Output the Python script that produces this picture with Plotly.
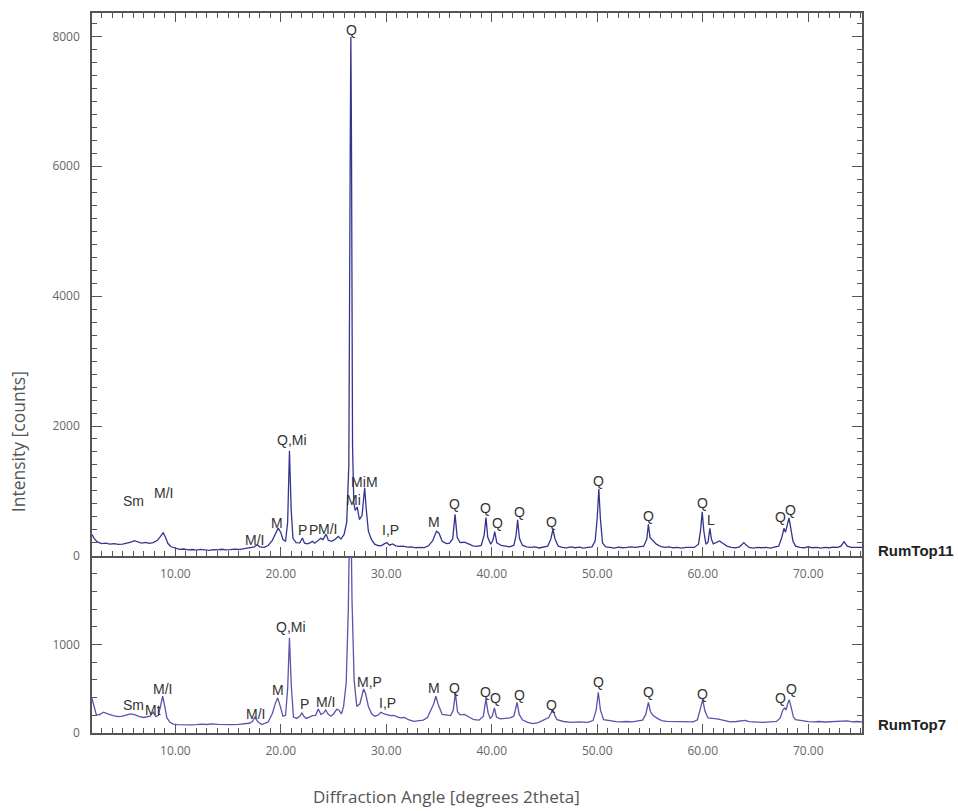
import plotly.graph_objects as go

# ---------------- data ----------------
top_angle = [2.1, 2.3, 2.6, 3.0, 3.4, 3.8, 4.2, 4.6, 5.0, 5.4, 5.8, 6.1, 6.4, 6.8, 7.2, 7.5, 7.9, 8.3, 8.6, 8.85,
             9.05, 9.3, 9.6, 10.0, 10.4, 10.8, 11.2, 11.6, 12.0, 12.4, 12.8, 13.2, 13.6, 14.0, 14.4, 14.8, 15.2, 15.6, 16.0, 16.4,
             16.8, 17.2, 17.5, 17.75, 18.0, 18.4, 18.8, 19.2, 19.5, 19.75, 20.0, 20.2, 20.45, 20.65, 20.82, 20.98, 21.15, 21.45, 21.8, 22.05,
             22.25, 22.55, 22.8, 23.0, 23.2, 23.5, 23.8, 24.0, 24.3, 24.5, 24.8, 25.1, 25.45, 25.7, 26.0, 26.25, 26.45, 26.58, 26.64, 26.7,
             26.8, 26.92, 27.05, 27.25, 27.45, 27.7, 27.95, 28.1, 28.3, 28.6, 28.9, 29.2, 29.5, 29.8, 30.05, 30.3, 30.6, 30.9, 31.2, 31.6,
             32.0, 32.4, 32.8, 33.2, 33.6, 34.0, 34.4, 34.75, 35.0, 35.3, 35.7, 36.0, 36.3, 36.52, 36.72, 37.0, 37.4, 37.8, 38.2, 38.6,
             39.0, 39.28, 39.45, 39.62, 39.9, 40.1, 40.28, 40.48, 40.9, 41.3, 41.7, 42.1, 42.3, 42.45, 42.62, 42.9, 43.3, 43.7, 44.1, 44.5,
             44.9, 45.3, 45.6, 45.8, 46.0, 46.3, 46.7, 47.1, 47.5, 47.9, 48.3, 48.7, 49.1, 49.5, 49.8, 50.0, 50.15, 50.3, 50.5, 50.8,
             51.2, 51.6, 52.0, 52.4, 52.8, 53.2, 53.6, 54.0, 54.4, 54.7, 54.85, 55.0, 55.3, 55.6, 56.0, 56.4, 56.8, 57.2, 57.6, 58.0,
             58.4, 58.8, 59.2, 59.6, 59.8, 59.95, 60.1, 60.3, 60.5, 60.68, 60.82, 61.0, 61.3, 61.6, 61.9, 62.3, 62.7, 63.1, 63.5, 63.9,
             64.1, 64.4, 64.8, 65.2, 65.6, 66.0, 66.4, 66.8, 67.2, 67.5, 67.7, 67.85, 68.0, 68.18, 68.35, 68.55, 68.8, 69.2, 69.6, 70.0,
             70.4, 70.8, 71.2, 71.6, 72.0, 72.4, 72.8, 73.1, 73.4, 73.7, 74.1, 74.6, 75.1]
top_counts = [330, 270, 215, 190, 195, 180, 188, 176, 182, 192, 210, 235, 215, 198, 208, 192, 205, 240, 300, 355,
              290, 190, 140, 115, 100, 106, 92, 98, 88, 100, 92, 86, 96, 92, 102, 92, 97, 104, 98, 108,
              112, 122, 140, 172, 140, 132, 160, 240, 360, 430, 360, 250, 225, 520, 1620, 720, 270, 205, 200, 275,
              195, 185, 205, 225, 195, 235, 270, 250, 335, 240, 225, 250, 300, 260, 330, 520, 1400, 6200, 7990, 6400,
              1700, 820, 700, 750, 560, 620, 1050, 720, 380, 250, 180, 160, 155, 185, 205, 165, 185, 155, 145, 150,
              136, 140, 125, 132, 128, 155, 235, 380, 350, 225, 190, 195, 265, 640, 285, 205, 210, 185, 155, 145,
              160, 320, 590, 285, 180, 235, 375, 200, 160, 150, 140, 165, 310, 555, 270, 165, 138, 130, 140, 122,
              132, 150, 260, 410, 260, 150, 130, 122, 138, 125, 135, 120, 130, 140, 230, 590, 1030, 570, 200, 140,
              130, 120, 135, 125, 130, 140, 130, 140, 150, 260, 487, 285, 240, 180, 145, 130, 140, 125, 130, 120,
              130, 135, 130, 180, 400, 680, 390, 180, 210, 425, 260, 185, 205, 230, 195, 150, 130, 125, 140, 205,
              170, 130, 120, 130, 125, 130, 120, 130, 150, 285, 425, 365, 465, 585, 425, 230, 150, 130, 125, 140,
              125, 130, 120, 130, 125, 135, 130, 150, 220, 150, 130, 125, 130]

bottom_angle = [2.1, 2.3, 2.5, 2.8, 3.2, 3.6, 4.1, 4.6, 5.0, 5.4, 5.8, 6.2, 6.6, 7.0, 7.3, 7.6, 7.9, 8.15, 8.4, 8.6,
                8.8, 9.0, 9.2, 9.5, 9.8, 10.2, 10.6, 11.0, 11.5, 12.0, 12.5, 13.0, 13.5, 14.0, 14.5, 15.0, 15.5, 16.0, 16.5, 17.0,
                17.3, 17.55, 17.8, 18.2, 18.8, 19.2, 19.5, 19.7, 19.95, 20.2, 20.45, 20.65, 20.82, 21.0, 21.2, 21.5, 21.8, 22.0, 22.2, 22.4,
                22.7, 23.0, 23.3, 23.55, 23.8, 24.05, 24.25, 24.5, 24.75, 25.0, 25.3, 25.5, 25.75, 25.95, 26.2, 26.4, 26.6, 26.75, 26.95, 27.2,
                27.5, 27.85, 28.05, 28.3, 28.6, 28.9, 29.2, 29.5, 29.8, 30.1, 30.4, 30.7, 31.0, 31.3, 31.7, 32.1, 32.6, 33.1, 33.5, 33.9,
                34.2, 34.5, 34.7, 34.9, 35.3, 35.7, 36.1, 36.35, 36.55, 36.75, 37.0, 37.4, 37.8, 38.3, 38.8, 39.2, 39.45, 39.65, 39.85, 40.05,
                40.25, 40.45, 40.8, 41.3, 41.75, 42.1, 42.25, 42.4, 42.6, 42.9, 43.4, 43.9, 44.4, 44.8, 45.1, 45.4, 45.6, 45.8, 46.0, 46.2,
                46.8, 47.5, 48.3, 49.1, 49.6, 49.9, 50.1, 50.3, 50.6, 51.2, 51.8, 52.2, 52.8, 53.3, 53.8, 54.3, 54.6, 54.85, 55.05, 55.3,
                55.7, 56.1, 56.6, 57.2, 57.8, 58.5, 59.1, 59.5, 59.8, 60.0, 60.2, 60.5, 60.9, 61.35, 61.9, 62.6, 63.2, 63.7, 64.0, 64.4,
                65.0, 65.7, 66.4, 67.0, 67.35, 67.6, 67.75, 67.9, 68.05, 68.2, 68.4, 68.6, 68.8, 69.4, 70.0, 70.5, 71.0, 71.6, 72.2, 72.8,
                73.3, 73.7, 74.2, 74.6, 75.1]
bottom_counts = [390, 290, 210, 205, 235, 215, 195, 185, 190, 205, 215, 205, 185, 175, 180, 190, 235, 185, 200, 310,
                 415, 300, 170, 120, 100, 94, 92, 95, 92, 94, 100, 96, 102, 97, 94, 99, 95, 98, 104, 110,
                 130, 180, 130, 96, 125, 220, 340, 396, 300, 190, 200, 500, 1075, 520, 180, 165, 190, 226, 185, 165,
                 180, 196, 200, 272, 210, 225, 260, 210, 190, 215, 268, 260, 215, 300, 566, 1400, 3000, 1500, 600, 300,
                 330, 498, 440, 300, 220, 190, 200, 235, 215, 205, 196, 200, 185, 170, 175, 150, 131, 140, 146, 175,
                 245, 330, 415, 330, 210, 200, 196, 260, 453, 240, 205, 210, 180, 150, 145, 190, 385, 230, 165, 190,
                 283, 180, 160, 168, 170, 190, 260, 347, 210, 150, 120, 105, 118, 140, 150, 175, 220, 264, 190, 150,
                 130, 120, 125, 120, 140, 260, 460, 260, 150, 135, 128, 125, 130, 125, 131, 145, 210, 347, 240, 196,
                 165, 140, 131, 128, 125, 120, 125, 150, 270, 377, 250, 170, 165, 160, 145, 125, 130, 135, 143, 128,
                 122, 120, 125, 130, 170, 260, 283, 260, 330, 377, 280, 180, 150, 135, 128, 125, 130, 124, 128, 125,
                 132, 138, 126, 130, 125]

# peak labels (text, angle, counts at label centre)
top_label_text = ["Sm", "M/I", "M/I", "M", "Q,Mi", "P", "P", "M/I", "Q", "Mi", "Mi", "M", "I,P", "M",
                  "Q", "Q", "Q", "Q", "Q", "Q", "Q", "Q", "L", "Q", "Q"]
top_label_x = [6.0, 8.85, 17.5, 19.6, 21.1, 22.1, 23.1, 24.4, 26.7, 26.85, 27.35, 28.65, 30.4, 34.5,
               36.5, 39.4, 40.5, 42.6, 45.7, 50.1, 54.9, 60.0, 60.8, 67.4, 68.3]
top_label_y = [846, 969, 246, 508, 1785, 400, 400, 415, 8092, 862, 1138, 1138, 400, 523,
               800, 738, 508, 677, 523, 1154, 615, 815, 554, 600, 708]

bottom_label_text = ["Sm", "Mt", "M/I", "M/I", "M", "Q,Mi", "P", "M/I", "M,P", "I,P", "M",
                     "Q", "Q", "Q", "Q", "Q", "Q", "Q", "Q", "Q", "Q"]
bottom_label_x = [6.0, 7.9, 8.8, 17.6, 19.7, 21.0, 22.2, 24.2, 28.4, 30.1, 34.5,
                  36.5, 39.4, 40.4, 42.6, 45.7, 50.1, 54.9, 60.0, 67.4, 68.4]
bottom_label_y = [320, 264, 502, 219, 490, 1192, 332, 354, 581, 343, 513,
                  513, 468, 400, 434, 320, 581, 468, 445, 400, 502]

sample_names = ["RumTop11", "RumTop7"]
x_ticks = [10, 20, 30, 40, 50, 60, 70]

# ---------------- figure ----------------
AX = "#555555"
TICKFONT = dict(family="Open Sans", size=12, color="#666666")

fig = go.Figure()
fig.add_trace(go.Scatter(x=top_angle, y=top_counts, xaxis="x", yaxis="y", mode="lines",
                         line=dict(color="#34348f", width=1.3), showlegend=False, hoverinfo="skip"))
fig.add_trace(go.Scatter(x=bottom_angle, y=bottom_counts, xaxis="x2", yaxis="y2", mode="lines",
                         line=dict(color="#5d52aa", width=1.3), showlegend=False, hoverinfo="skip"))

def xaxis_cfg(anchor, mirror):
    return dict(anchor=anchor, domain=[0, 1], range=[2.1, 75.1],
                tickvals=x_ticks, ticktext=[f"{v:.2f}" for v in x_ticks],
                ticks="inside", ticklen=9, tickwidth=1, tickcolor=AX,
                minor=dict(ticks="inside", dtick=1, tick0=0, ticklen=5, tickcolor=AX, tickwidth=1),
                showline=True, linecolor=AX, linewidth=1.5, mirror=mirror,
                showgrid=False, zeroline=False, tickfont=TICKFONT, ticklabelstandoff=6)

def yaxis_cfg(anchor, domain, rng, tickvals):
    return dict(anchor=anchor, domain=domain, range=rng, tickvals=tickvals,
                ticks="inside", ticklen=10, tickwidth=1, tickcolor=AX,
                minor=dict(ticks="inside", dtick=200, tick0=0, ticklen=5, tickcolor=AX, tickwidth=1),
                showline=True, linecolor=AX, linewidth=1.5, mirror="ticks",
                showgrid=False, zeroline=False, tickfont=TICKFONT, ticklabelstandoff=8)

split = 0.246
fig.update_layout(
    width=958, height=811,
    margin=dict(l=92, r=96, t=13, b=78),
    paper_bgcolor="white", plot_bgcolor="white",
    xaxis=xaxis_cfg("y", "ticks"),
    yaxis=yaxis_cfg("x", [split, 1], [0, 8360], [0, 2000, 4000, 6000, 8000]),
    xaxis2=xaxis_cfg("y2", False),
    yaxis2=yaxis_cfg("x2", [0, split], [0, 2000], [0, 1000]),
)

ann = []
LBL = dict(family="Liberation Sans, Arial, sans-serif", size=14, color="#333333")
for t, x, y in zip(top_label_text, top_label_x, top_label_y):
    ann.append(dict(text=t, x=x, y=y, xref="x", yref="y", showarrow=False,
                    xanchor="center", yanchor="middle", font=LBL))
for t, x, y in zip(bottom_label_text, bottom_label_x, bottom_label_y):
    ann.append(dict(text=t, x=x, y=y, xref="x2", yref="y2", showarrow=False,
                    xanchor="center", yanchor="middle", font=LBL))

NAME = dict(family="Liberation Sans, Arial, sans-serif", size=15, color="#222222")
ann.append(dict(text=f"<b>{sample_names[0]}</b>", x=1.018, y=0.253, xref="paper", yref="paper",
                showarrow=False, xanchor="left", yanchor="middle", font=NAME))
ann.append(dict(text=f"<b>{sample_names[1]}</b>", x=1.018, y=0.0115, xref="paper", yref="paper",
                showarrow=False, xanchor="left", yanchor="middle", font=NAME))
ann.append(dict(text="Intensity [counts]", x=-0.096, y=0.404, xref="paper", yref="paper",
                showarrow=False, textangle=-90, xanchor="center", yanchor="middle",
                font=dict(family="Open Sans", size=17.5, color="#555555")))
ann.append(dict(text="Diffraction Angle [degrees 2theta]", x=0.461, y=-0.088, xref="paper", yref="paper",
                showarrow=False, xanchor="center", yanchor="middle",
                font=dict(family="Open Sans", size=17, color="#555555")))
fig.update_layout(annotations=ann)

fig.write_html("out.html", config={"displayModeBar": False},
               post_script="document.body.style.margin='0';document.body.style.overflow='hidden';")
